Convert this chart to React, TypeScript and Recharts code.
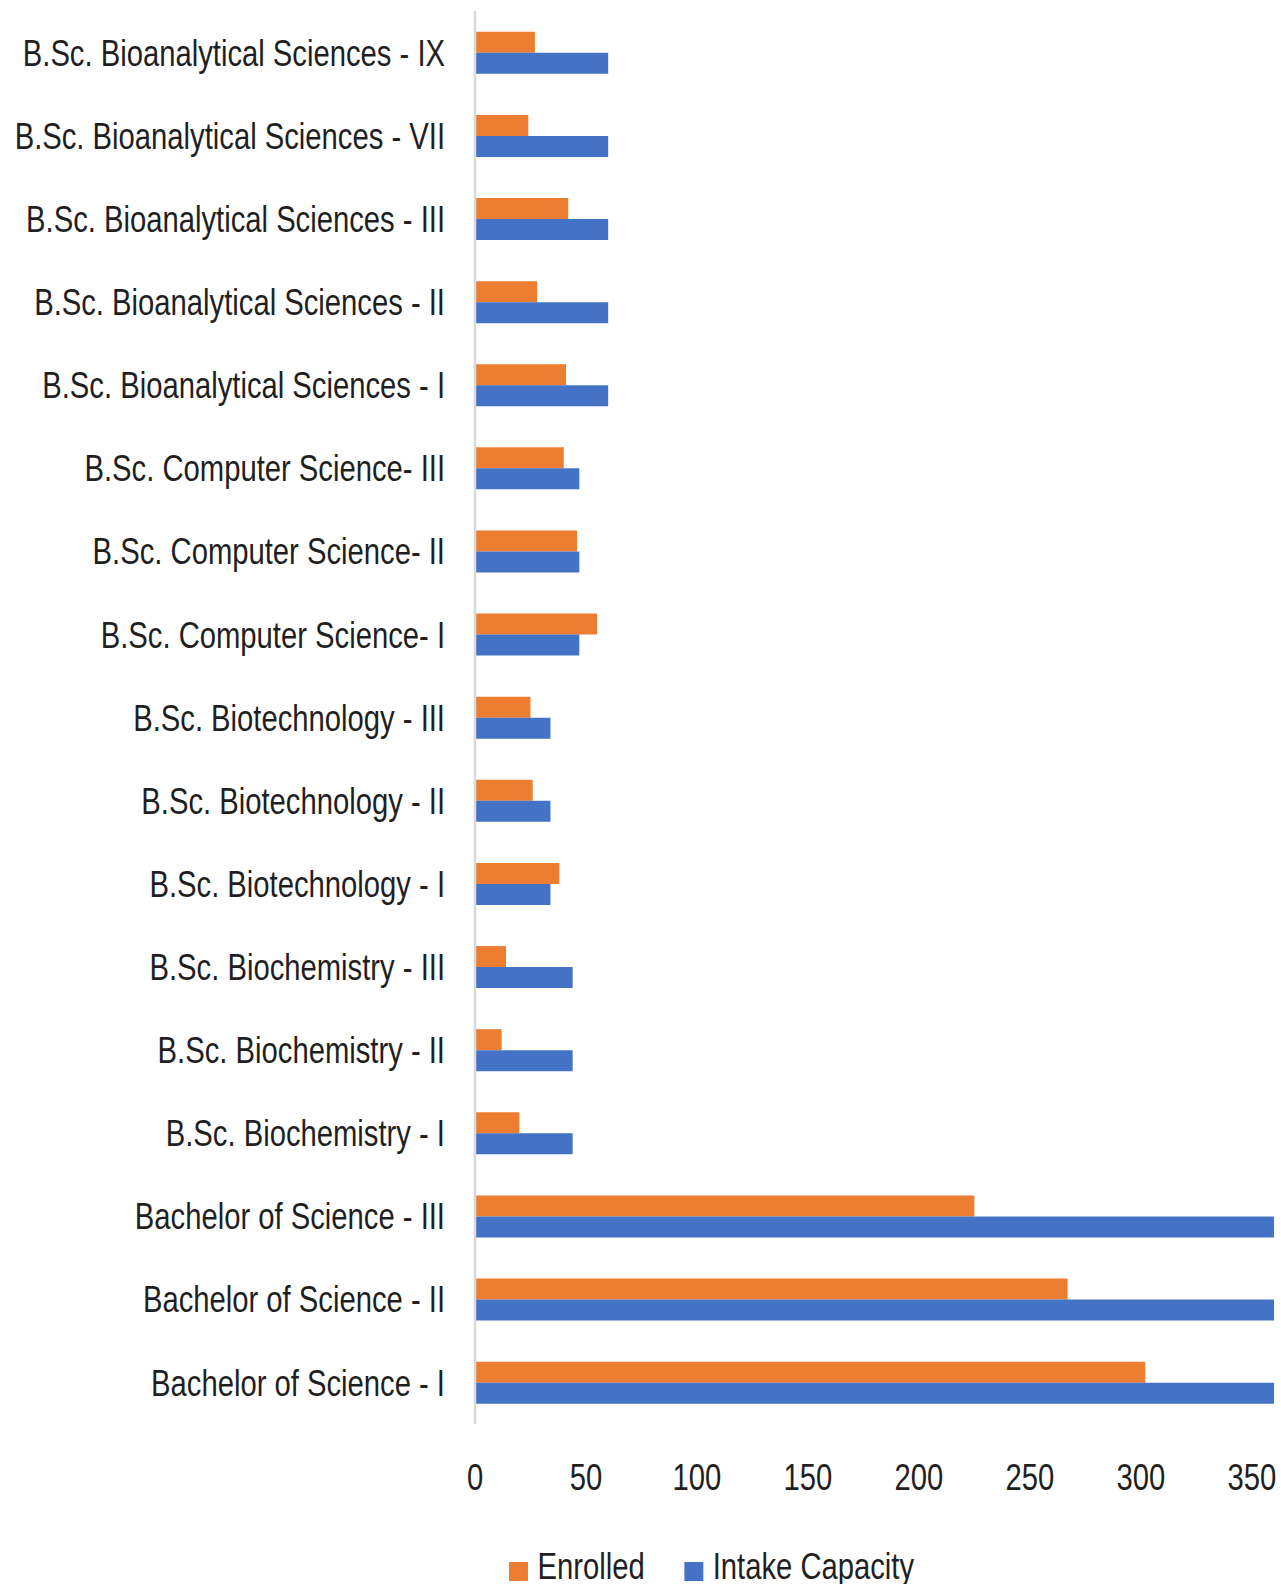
import { BarChart, Bar, XAxis, YAxis, Legend } from "recharts"

const programmes = [
  "B.Sc. Bioanalytical Sciences - IX",
  "B.Sc. Bioanalytical Sciences - VII",
  "B.Sc. Bioanalytical Sciences - III",
  "B.Sc. Bioanalytical Sciences - II",
  "B.Sc. Bioanalytical Sciences - I",
  "B.Sc. Computer Science- III",
  "B.Sc. Computer Science- II",
  "B.Sc. Computer Science- I",
  "B.Sc. Biotechnology - III",
  "B.Sc. Biotechnology - II",
  "B.Sc. Biotechnology - I",
  "B.Sc. Biochemistry - III",
  "B.Sc. Biochemistry - II",
  "B.Sc. Biochemistry - I",
  "Bachelor of Science - III",
  "Bachelor of Science - II",
  "Bachelor of Science - I",
]

const enrolled = [27, 24, 42, 28, 41, 40, 46, 55, 25, 26, 38, 14, 12, 20, 225, 267, 302]
const intakeCapacity = [60, 60, 60, 60, 60, 47, 47, 47, 34, 34, 34, 44, 44, 44, 360, 360, 360]

const xTicks = [0, 50, 100, 150, 200, 250, 300, 350]

const data = programmes.map((name, i) => ({
  name,
  enrolled: enrolled[i],
  intake: intakeCapacity[i],
}))

const FONT = "'Liberation Sans', Arial, sans-serif"
const TEXT = "#1f1f1f"
const SQUEEZE = 0.79

function YTick(props: any) {
  const { x, y, payload } = props
  return (
    <text
      x={0}
      y={0}
      transform={`translate(${x},${y}) scale(${SQUEEZE},1)`}
      textAnchor="end"
      dy="0.355em"
      fontFamily={FONT}
      fontSize={37}
      fill={TEXT}
    >
      {payload.value}
    </text>
  )
}

function XTick(props: any) {
  const { x, y, payload } = props
  return (
    <text
      x={0}
      y={0}
      transform={`translate(${x},${y}) scale(${SQUEEZE},1)`}
      textAnchor="middle"
      dy="0.71em"
      fontFamily={FONT}
      fontSize={37}
      fill={TEXT}
    >
      {payload.value}
    </text>
  )
}

function LegendBox(props: any) {
  const items = props.payload || []
  return (
    <div
      style={{
        display: "flex",
        alignItems: "center",
        height: 40,
        position: "relative",
        top: 3,
        transform: `scaleX(${SQUEEZE})`,
        transformOrigin: "left center",
        fontFamily: FONT,
        fontSize: 37,
        color: TEXT,
        whiteSpace: "nowrap",
      }}
    >
      {items.map((item: any, i: number) => (
        <div key={item.value} style={{ display: "flex", alignItems: "center", marginLeft: i === 0 ? 0 : 50 }}>
          <span
            style={{
              display: "inline-block",
              width: 24,
              height: 19,
              background: item.color,
              marginRight: 12,
              position: "relative",
              top: 4,
            }}
          />
          <span>{item.value}</span>
        </div>
      ))}
    </div>
  )
}

export default function App() {
  return (
    <div style={{ position: "absolute", left: 0, top: 0, width: 1281, height: 1584, background: "#fff" }}>
      <BarChart
        width={1281}
        height={1584}
        data={data}
        layout="vertical"
        margin={{ top: 11, right: 7, left: 0, bottom: 0 }}
        barCategoryGap="25%"
        barGap={0}
      >
        <XAxis
          type="number"
          domain={[0, 360]}
          ticks={xTicks}
          interval={0}
          axisLine={false}
          tickLine={false}
          tickMargin={34}
          height={120}
          tick={(p: any) => <XTick {...p} />}
        />
        <YAxis
          type="category"
          dataKey="name"
          width={475}
          interval={0}
          tickLine={false}
          tickMargin={24}
          axisLine={{ stroke: "#d9d9d9", strokeWidth: 2.5 }}
          tick={(p: any) => <YTick {...p} />}
        />
        <Legend
          verticalAlign="bottom"
          align="left"
          content={(p: any) => <LegendBox {...p} />}
          wrapperStyle={{ left: 509, bottom: 0, width: 600, height: 40 }}
        />
        <Bar dataKey="enrolled" name="Enrolled" fill="#ED7D31" isAnimationActive={false} />
        <Bar dataKey="intake" name="Intake Capacity" fill="#4472C4" isAnimationActive={false} />
      </BarChart>
    </div>
  )
}
